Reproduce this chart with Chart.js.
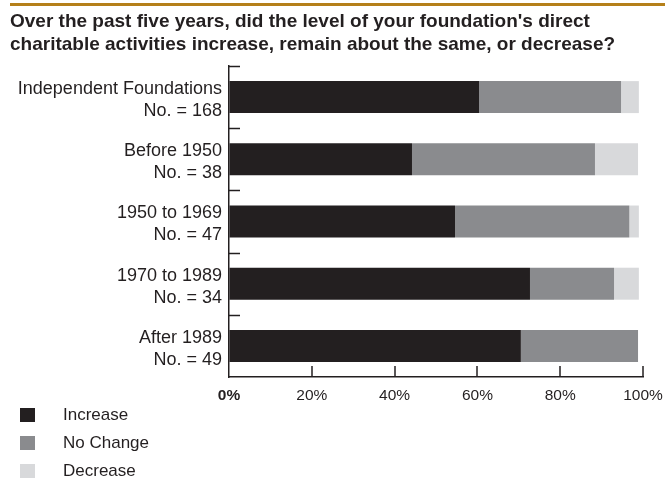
<!DOCTYPE html>
<html>
<head>
<meta charset="utf-8">
<script src="https://cdn.jsdelivr.net/npm/chart.js@4.4.0/dist/chart.umd.min.js"></script>
<style>
  html, body { margin: 0; padding: 0; background: #ffffff; }
  #wrap { width: 665px; height: 479px; position: relative; }
</style>
</head>
<body>
<div id="wrap"><canvas id="c" width="665" height="479"></canvas></div>
<script>
const titleLines = [
  "Over the past five years, did the level of your foundation's direct",
  "charitable activities increase, remain about the same, or decrease?"
];
const categories = [
  ["Independent Foundations", "No. = 168"],
  ["Before 1950", "No. = 38"],
  ["1950 to 1969", "No. = 47"],
  ["1970 to 1989", "No. = 34"],
  ["After 1989", "No. = 49"]
];
const seriesNames = ["Increase", "No Change", "Decrease"];
const increase = [60.4, 44.2, 54.6, 72.7, 70.5];
const noChange = [34.3, 44.2, 42.1, 20.3, 28.3];
const decrease = [4.3, 10.4, 2.3, 6.0, 0];
const xTicks = [0, 20, 40, 60, 80, 100];

const colors = ["#231f20", "#8a8b8e", "#d8d9db"];
const ink = "#231f20";
const labelFamily = "'Liberation Sans', Arial, sans-serif";
const titleFamily = "'Liberation Sans Narrow', 'Liberation Sans', Arial, sans-serif";

const decorPlugin = {
  id: 'decor',
  beforeDraw(chart) {
    const ctx = chart.ctx;
    ctx.save();
    ctx.fillStyle = "#b5801a";
    ctx.fillRect(10, 3, chart.width - 10, 3);
    ctx.restore();
  },
  afterDraw(chart) {
    const ctx = chart.ctx;
    const ys = chart.scales.y, xs = chart.scales.x;
    const area = chart.chartArea;
    ctx.save();
    ctx.strokeStyle = ink;
    ctx.lineWidth = 1.5;
    for (let i = 0; i < categories.length; i++) {
      const y = Math.round(ys.getPixelForValue(i - 0.5)) + 0.5;
      ctx.beginPath();
      ctx.moveTo(area.left, y);
      ctx.lineTo(area.left + 11, y);
      ctx.stroke();
    }
    xs.ticks.forEach(t => {
      if (t.value === 0) return;
      const x = Math.round(xs.getPixelForValue(t.value));
      ctx.beginPath();
      ctx.moveTo(x, area.bottom);
      ctx.lineTo(x, area.bottom - 11);
      ctx.stroke();
    });
    ctx.textBaseline = 'middle';
    ctx.textAlign = 'left';
    ctx.font = "17px " + labelFamily;
    chart.data.datasets.forEach((ds, i) => {
      const cy = 415 + i * 28;
      ctx.fillStyle = ds.backgroundColor;
      ctx.fillRect(20, cy - 7, 15, 14);
      ctx.fillStyle = ink;
      ctx.fillText(ds.label, 63, cy);
    });
    ctx.restore();
  }
};

new Chart(document.getElementById('c'), {
  type: 'bar',
  data: {
    labels: categories,
    datasets: [
      { label: seriesNames[0], data: increase, backgroundColor: colors[0] },
      { label: seriesNames[1], data: noChange, backgroundColor: colors[1] },
      { label: seriesNames[2], data: decrease, backgroundColor: colors[2] }
    ]
  },
  options: {
    indexAxis: 'y',
    responsive: false,
    animation: false,
    devicePixelRatio: 1,
    layout: { padding: { left: 10, right: 22, top: 0, bottom: 0 } },
    datasets: { bar: { barPercentage: 0.514, categoryPercentage: 1, borderWidth: 0 } },
    plugins: {
      legend: { display: false },
      tooltip: { enabled: false },
      title: {
        display: true,
        text: titleLines,
        align: 'start',
        color: ink,
        font: { family: titleFamily, size: 19, weight: 'bold', lineHeight: '23px' },
        padding: { top: 10, bottom: 10 }
      }
    },
    scales: {
      x: {
        stacked: true,
        min: 0,
        max: 100,
        afterBuildTicks(s) { s.ticks = xTicks.map(v => ({ value: v })); },
        afterFit(s) { s.height = 102; s.paddingLeft = 0; s.paddingRight = 0; },
        grid: { display: true, drawOnChartArea: false, drawTicks: false },
        border: { display: true, color: ink, width: 1.5 },
        ticks: {
          padding: 9,
          color: ink,
          maxRotation: 0,
          callback: v => v + '%',
          font: ctx => ({ family: labelFamily, size: 15.5, weight: (ctx.tick && ctx.tick.value === 0) ? 'bold' : 'normal' })
        }
      },
      y: {
        stacked: true,
        afterFit(s) { s.width = 219; s.paddingTop = 0; s.paddingBottom = 0; },
        grid: { display: true, drawOnChartArea: false, drawTicks: false },
        border: { display: true, color: ink, width: 1.5 },
        ticks: {
          padding: 7,
          labelOffset: 3,
          color: ink,
          font: { family: labelFamily, size: 18, lineHeight: '22px' }
        }
      }
    }
  },
  plugins: [decorPlugin]
});
</script>
</body>
</html>
